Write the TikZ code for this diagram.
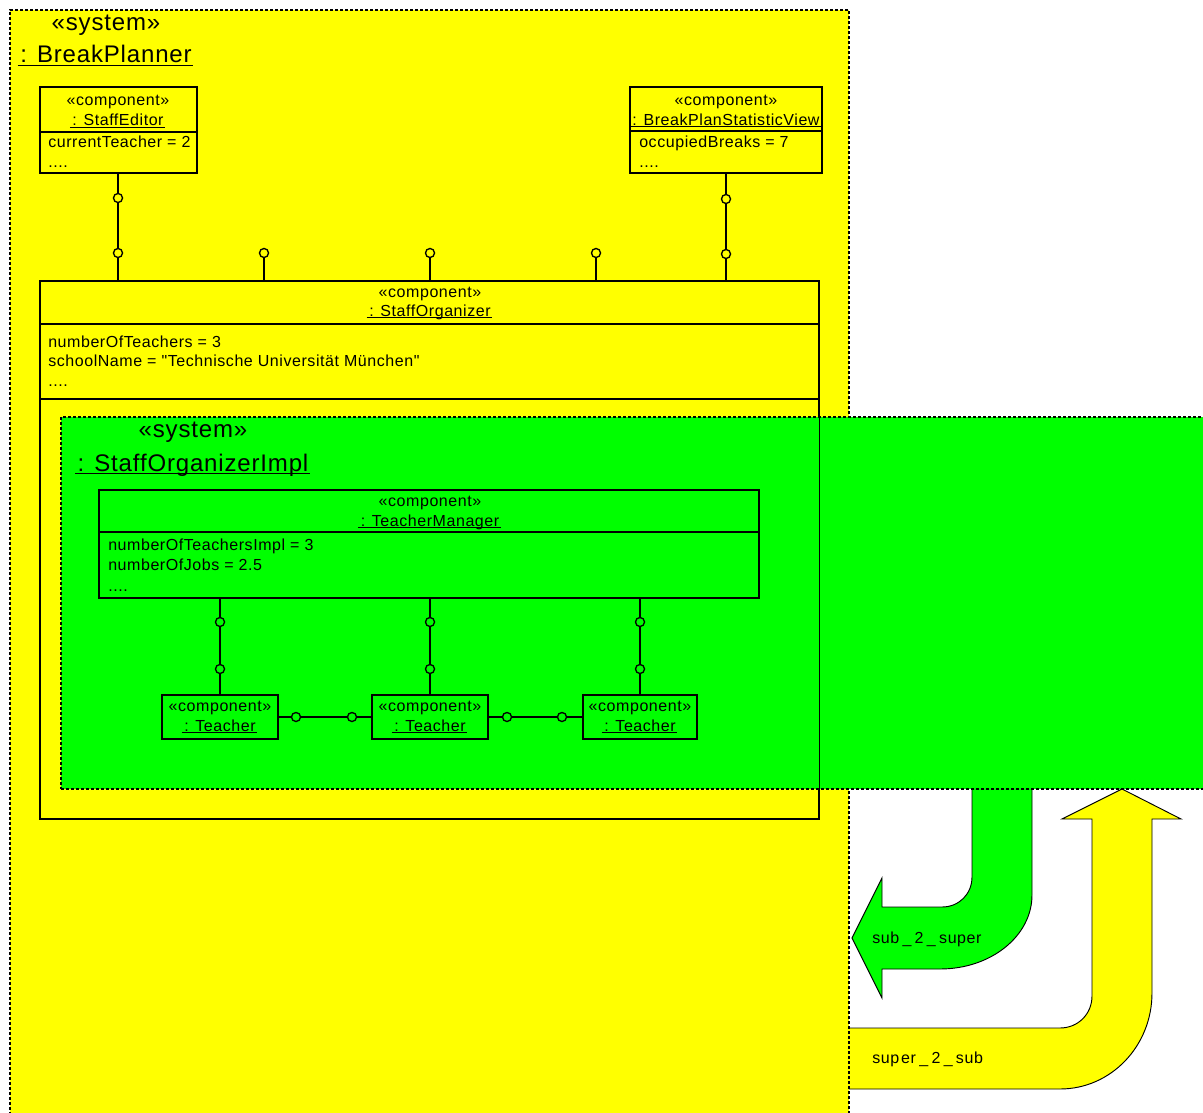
\documentclass[tikz,border=0pt]{standalone}
\usepackage{fontspec}
% plain family without TeX ligature mapping, so " stays a straight quote
\newfontfamily\diagfont{Liberation Sans}[LetterSpace=3.5]
\usetikzlibrary{fit}
\definecolor{sysyellow}{HTML}{FFFF00}
\definecolor{sysgreen}{HTML}{00FF00}
% underlined object name, the rule reaching a little past the text
\newcommand\uln[1]{\setbox0\hbox{#1}\rlap{\kern-2pt\rule[-0.22ex]{\dimexpr\wd0+3pt\relax}{0.1ex}}\box0}
\newcommand\smalltext{\diagfont\fontsize{12pt}{14pt}\selectfont}
\newcommand\bigtext{\diagfont\fontsize{18pt}{22pt}\selectfont}
\tikzset{
  box/.style={draw=black, line width=1pt, inner sep=0pt},
  sysframe/.style={draw=black, line width=0.9pt, dash pattern=on 2.25pt off 1.5pt, inner sep=0pt},
  lbl/.style={font=\smalltext, inner sep=0pt, anchor=base},
  attr/.style={font=\smalltext, inner sep=0pt, anchor=base west},
  hdr/.style={font=\bigtext, inner sep=0pt, anchor=base},
  lollipop/.style={circle, draw=black, fill=#1, line width=1pt, inner sep=0pt, minimum size=6.8pt},
  wire/.style={draw=black, line width=1pt},
  bigarrow/.style={draw=black, line width=0.7pt}
}
\begin{document}
\begin{tikzpicture}[x=0.75pt,y=-0.75pt]
\useasboundingbox (0,0) rectangle (1203,1113);
\clip (0,0) rectangle (1203,1113);

% ---- broad arrows between the two systems ----
\fill[sysgreen] (972,789) -- (972,877) .. controls (972,894) and (959,907) .. (942,907)
  -- (882,907) -- (882,878) -- (852,938) -- (882,998) -- (882,969) -- (940,969)
  .. controls (991,969) and (1032,936) .. (1032,895) -- (1032,789) -- cycle;
\draw[bigarrow] (972,789) -- (972,877) .. controls (972,894) and (959,907) .. (942,907)
  -- (882,907) -- (882,878) -- (852,938) -- (882,998) -- (882,969) -- (940,969)
  .. controls (991,969) and (1032,936) .. (1032,895) -- (1032,789);
\node[attr] (sub2super) at (872,943) {sub\hspace{2.5pt}\_\hspace{2.5pt}2\hspace{2.5pt}\_\hspace{2.5pt}super};

\fill[sysyellow] (849,1028) -- (1060,1028) .. controls (1078,1028) and (1092,1014) .. (1092,996)
  -- (1092,819) -- (1062,819) -- (1122,789) -- (1181,819) -- (1152,819) -- (1152,993)
  .. controls (1152,1046) and (1111,1089) .. (1060,1089) -- (849,1089) -- cycle;
\draw[bigarrow] (849,1028) -- (1060,1028) .. controls (1078,1028) and (1092,1014) .. (1092,996)
  -- (1092,819) -- (1062,819) -- (1122,789) -- (1181,819) -- (1152,819) -- (1152,993)
  .. controls (1152,1046) and (1111,1089) .. (1060,1089) -- (849,1089);
\node[attr] (super2sub) at (872,1063) {sup\hspace{1.5pt}er\hspace{2.5pt}\_\hspace{2.5pt}2\hspace{2.5pt}\_\hspace{2.5pt}sub};

% ---- outer system ----
\node[sysframe, fill=sysyellow, fit={(10,10) (849,1140)}] (bp) {};
\node[hdr] (bp-st) at (106,31) {«system»};
\node[hdr] (bp-name) at (106,63) {\uln{: BreakPlanner}};

% StaffEditor
\node[box, fill=sysyellow, fit={(40,87) (197,173)}] (se) {};
\draw[wire] (40,132) -- (197,132);
\node[lbl] (se-st) at (118,105) {«component»};
\node[lbl] (se-name) at (118,126) {\uln{: StaffEditor}};
\node[attr] (se-a1) at (48,147) {currentTeacher = 2};
\node[attr] (se-a2) at (48,167) {....};

% BreakPlanStatisticView
\node[box, fill=sysyellow, fit={(630,87) (822,173)}] (bv) {};
\draw[wire] (630,131) -- (822,131);
\node[lbl] (bv-st) at (726,105) {«component»};
\node[lbl] (bv-name) at (726,125) {\uln{: BreakPlanStatisticView}};
\node[attr] (bv-a1) at (639,147) {occupiedBreaks = 7};
\node[attr] (bv-a2) at (639,167) {....};

% StaffOrganizer
\node[box, fill=sysyellow, fit={(40,281) (819,819)}] (so) {};
\draw[wire] (40,324) -- (819,324);
\draw[wire] (40,399) -- (819,399);
\node[lbl] (so-st) at (430,297) {«component»};
\node[lbl] (so-name) at (430,316) {\uln{: StaffOrganizer}};
\node[attr] (so-a1) at (48,347) {numberOfTeachers = 3};
\node[attr] (so-a2) at (48,366) {schoolName = "Technische Universität München"};
\node[attr] (so-a3) at (48,386) {....};

% assembly connectors into StaffOrganizer
\coordinate (se-port) at (118,173);
\draw[wire] (se-port) -- (se-port |- so.north);
\node[lollipop=sysyellow] (se-c1) at (118,198) {};
\node[lollipop=sysyellow] (se-c2) at (118,253) {};
\draw[wire] (bv.south) -- (bv.south |- so.north);
\node[lollipop=sysyellow] (bv-c1) at (726,199) {};
\node[lollipop=sysyellow] (bv-c2) at (726,254) {};
\coordinate (so-p1) at (264,253);
\coordinate (so-p2) at (430,253);
\coordinate (so-p3) at (596,253);
\draw[wire] (so-p1) -- (so-p1 |- so.north);
\draw[wire] (so-p2) -- (so-p2 |- so.north);
\draw[wire] (so-p3) -- (so-p3 |- so.north);
\node[lollipop=sysyellow] (so-c1) at (so-p1) {};
\node[lollipop=sysyellow] (so-c2) at (so-p2) {};
\node[lollipop=sysyellow] (so-c3) at (so-p3) {};

% ---- inner system ----
\node[sysframe, fill=sysgreen, fit={(61,417) (1220,789)}] (soi) {};
\draw[wire] (so.north west) rectangle (so.south east);
\node[hdr] (soi-st) at (193,437) {«system»};
\node[hdr] (soi-name) at (193,471) {\uln{: StaffOrganizerImpl}};

% TeacherManager
\node[box, fill=sysgreen, fit={(99,490) (759,598)}] (tm) {};
\draw[wire] (99,532) -- (759,532);
\node[lbl] (tm-st) at (430,506) {«component»};
\node[lbl] (tm-name) at (430,526) {\uln{: TeacherManager}};
\node[attr] (tm-a1) at (108,550) {numberOfTeachersImpl = 3};
\node[attr] (tm-a2) at (108,570) {numberOfJobs = 2.5};
\node[attr] (tm-a3) at (108,591) {....};

% Teachers
\node[box, fill=sysgreen, fit={(162,695) (278,739)}] (t1) {};
\node[box, fill=sysgreen, fit={(372,695) (488,739)}] (t2) {};
\node[box, fill=sysgreen, fit={(583,695) (697,739)}] (t3) {};
\foreach \t in {t1,t2,t3} {
  \node[lbl] (\t-st) at ([yshift=-17*0.75pt]\t.north) {«component»};
  \node[lbl] (\t-name) at ([yshift=-37*0.75pt]\t.north) {\uln{: Teacher}};
}

% connectors between TeacherManager and the Teachers
\draw[wire] (t1.north) -- (t1.north |- tm.south);
\draw[wire] (t2.north) -- (t2.north |- tm.south);
\draw[wire] (t3.north) -- (t3.north |- tm.south);
\draw[wire] (t1.east) -- (t2.west);
\draw[wire] (t2.east) -- (t3.west);
\node[lollipop=sysgreen] (t1-c1) at (220,622) {};
\node[lollipop=sysgreen] (t1-c2) at (220,669) {};
\node[lollipop=sysgreen] (t2-c1) at (430,622) {};
\node[lollipop=sysgreen] (t2-c2) at (430,669) {};
\node[lollipop=sysgreen] (t3-c1) at (640,622) {};
\node[lollipop=sysgreen] (t3-c2) at (640,669) {};
\node[lollipop=sysgreen] (h1-c1) at (296,717) {};
\node[lollipop=sysgreen] (h1-c2) at (352,717) {};
\node[lollipop=sysgreen] (h2-c1) at (507,717) {};
\node[lollipop=sysgreen] (h2-c2) at (562,717) {};
\end{tikzpicture}
\end{document}
